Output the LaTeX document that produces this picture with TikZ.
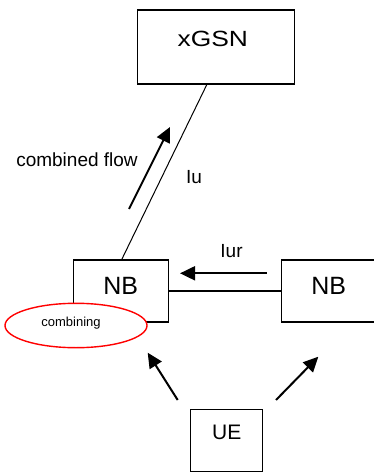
\documentclass[tikz,border=0pt]{standalone}
\usepackage{fontspec}
\setmainfont{Liberation Sans}
\usetikzlibrary{shapes.geometric,arrows.meta}

\begin{document}
\begin{tikzpicture}[x=1pt,y=-1pt]
	\tikzset{box/.style={draw,line width=1.3pt,inner sep=0pt}}
	\tikzset{flow/.style={line width=2pt,-{Triangle[length=15pt,width=14pt]}}}
	\tikzset{lbl/.style={font=\fontsize{19}{22}\selectfont,inner sep=0pt}}
	\useasboundingbox (0,0) rectangle (374,473);
	% boxes
	\node[box,minimum width=157pt,minimum height=74pt] (xgsn) at (215.8,47) {};
	\node[box,minimum width=95pt,minimum height=62pt] (nbl) at (120.8,291) {};
	\node[box,minimum width=96pt,minimum height=62pt] (nbr) at (329.8,291) {};
	\node[box,minimum width=72pt,minimum height=62pt] (ue) at (226.7,440.5) {};
	\node[font=\fontsize{22}{26}\selectfont] at ([yshift=8pt,xshift=-3pt]xgsn.center) {\scalebox{1.2}[1]{xGSN}};
	\node[font=\fontsize{25}{29}\selectfont] at ([yshift=5.5pt]nbl.center) {NB};
	\node[font=\fontsize{25}{29}\selectfont] at ([yshift=5.5pt,xshift=-1pt]nbr.center) {NB};
	\node[font=\fontsize{21}{25}\selectfont] at ([yshift=8pt]ue.center) {UE};
	% links
	\draw[line width=1pt] ([xshift=-9pt]xgsn.south) -- ([xshift=1pt]nbl.north);
	\draw[line width=1.3pt] (nbl.east) -- (nbr.west);
	% flows
	\coordinate (cfa) at (129,209);
	\coordinate (cfb) at (170,127);
	\coordinate (iura) at (266.7,273.3);
	\coordinate (iurb) at (180,273.3);
	\coordinate (uel) at (177.7,400);
	\coordinate (uelt) at (147.7,352.7);
	\coordinate (uer) at (276,400);
	\coordinate (uert) at (318.3,356.7);
	\draw[flow] (cfa) -- (cfb);
	\draw[flow] (iura) -- (iurb);
	\draw[flow] (uel) -- (uelt);
	\draw[flow] (uer) -- (uert);
	\node[lbl] (cflbl) at (77,160) {combined flow};
	\node[lbl] (iulbl) at (194,177) {Iu};
	\node[lbl] (iurlbl) at (231.5,251) {Iur};
	% combining
	\node[ellipse,draw=red,fill=white,line width=1.4pt,minimum width=142pt,minimum height=44.4pt,inner sep=0pt] (comb) at (76,325.5) {};
	\node[font=\fontsize{13}{15}\selectfont] at ([xshift=-5pt,yshift=2pt]comb.center) {combining};
\end{tikzpicture}
\end{document}
